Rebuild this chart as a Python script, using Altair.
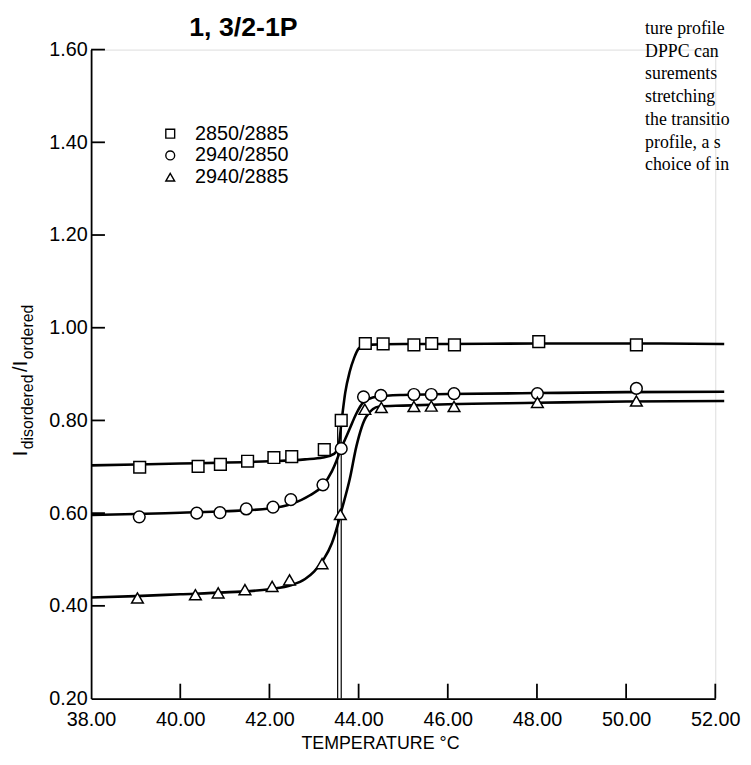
import altair as alt
import pandas as pd

# ---------------- data ----------------
series_names = ["2850/2885", "2940/2850", "2940/2885"]
series_shapes = ["square", "circle", "triangle-up"]

sq_x = [39.09, 40.40, 40.90, 41.51, 42.10, 42.50, 43.23, 43.61, 44.15, 44.55, 45.24, 45.64, 46.15, 48.04, 50.23]
sq_y = [0.699, 0.701, 0.705, 0.712, 0.720, 0.722, 0.737, 0.800, 0.966, 0.965, 0.963, 0.966, 0.963, 0.970, 0.963]

ci_x = [39.08, 40.37, 40.89, 41.48, 42.08, 42.48, 43.20, 43.61, 44.11, 44.50, 45.24, 45.63, 46.14, 48.01, 50.23]
ci_y = [0.592, 0.600, 0.601, 0.609, 0.613, 0.629, 0.661, 0.739, 0.851, 0.854, 0.856, 0.856, 0.858, 0.858, 0.869]

tr_x = [39.04, 40.34, 40.85, 41.45, 42.06, 42.45, 43.18, 43.59, 44.14, 44.51, 45.24, 45.63, 46.14, 48.01, 50.23]
tr_y = [0.417, 0.424, 0.428, 0.435, 0.442, 0.456, 0.491, 0.597, 0.824, 0.828, 0.830, 0.831, 0.830, 0.839, 0.842]

# fitted curves
sq_cx = [38.0, 39.0, 40.0, 41.0, 42.0, 42.8, 43.2, 43.45, 43.55, 43.62, 43.70, 43.80, 43.90, 44.00, 44.15, 45.0, 46.0, 48.0, 50.0, 52.2]
sq_cy = [0.703, 0.705, 0.707, 0.709, 0.712, 0.716, 0.720, 0.728, 0.745, 0.800, 0.860, 0.905, 0.935, 0.955, 0.963, 0.965, 0.965, 0.966, 0.966, 0.965]

ci_cx = [38.0, 39.0, 40.0, 41.0, 42.0, 42.5, 42.9, 43.2, 43.4, 43.5, 43.6, 43.7, 43.8, 43.95, 44.1, 44.4, 45.0, 46.0, 48.0, 50.0, 52.2]
ci_cy = [0.596, 0.598, 0.601, 0.604, 0.610, 0.620, 0.638, 0.660, 0.690, 0.712, 0.738, 0.760, 0.782, 0.815, 0.838, 0.851, 0.855, 0.857, 0.859, 0.861, 0.862]

tr_cx = [38.0, 39.0, 40.0, 41.0, 42.0, 42.5, 42.8, 43.0, 43.2, 43.4, 43.54, 43.6, 43.8, 43.95, 44.17, 44.46, 45.0, 46.0, 48.0, 50.0, 52.2]
tr_cy = [0.418, 0.421, 0.425, 0.429, 0.436, 0.445, 0.458, 0.474, 0.498, 0.535, 0.578, 0.600, 0.673, 0.744, 0.808, 0.830, 0.832, 0.835, 0.838, 0.841, 0.842]

# transition temperature markers (double vertical line)
tm_x = [43.53, 43.61]
tm_y0 = [0.20, 0.20]
tm_y1 = [0.79, 0.79]

x_ticks = [38, 40, 42, 44, 46, 48, 50, 52]
y_ticks = [0.2, 0.4, 0.6, 0.8, 1.0, 1.2, 1.4, 1.6]
x_inner_ticks = [40, 42, 44, 46, 48, 50, 52]
y_inner_ticks = [0.4, 0.6, 0.8, 1.0, 1.2, 1.4, 1.6]

title_text = "1, 3/2-1P"
x_title = "TEMPERATURE °C"
page_lines = ["ture profile", "DPPC can", "surements", "stretching",
              "the transitio", "profile, a s", "choice of in"]

# ---------------- tables ----------------
points = pd.concat([
    pd.DataFrame({"temp": sq_x, "ratio": sq_y, "series": series_names[0]}),
    pd.DataFrame({"temp": ci_x, "ratio": ci_y, "series": series_names[1]}),
    pd.DataFrame({"temp": tr_x, "ratio": tr_y, "series": series_names[2]}),
], ignore_index=True)

curves = pd.concat([
    pd.DataFrame({"temp": sq_cx, "ratio": sq_cy, "series": series_names[0]}),
    pd.DataFrame({"temp": ci_cx, "ratio": ci_cy, "series": series_names[1]}),
    pd.DataFrame({"temp": tr_cx, "ratio": tr_cy, "series": series_names[2]}),
], ignore_index=True)

tm = pd.DataFrame({"temp": tm_x, "ratio": tm_y0, "ratio_top": tm_y1})

W, H = 631, 656
FONT = "Liberation Sans"

x_scale = alt.Scale(domain=[38, 52], nice=False, zero=False)
y_scale = alt.Scale(domain=[0.2, 1.6], nice=False, zero=False)

x_axis = alt.Axis(values=x_ticks, format=".2f", ticks=False, tickSize=0, grid=False,
                  labelFont=FONT, labelFontSize=20, labelColor="black", labelPadding=11,
                  labelFlush=False, labelOverlap=False,
                  domainColor="black", domainWidth=1.8,
                  title=x_title, titleFont=FONT, titleFontSize=18, titleFontWeight="normal",
                  titleColor="black", titleX=292, titleY=45, titleBaseline="middle",
                  titleAlign="center", titleAnchor="start")
y_axis = alt.Axis(values=y_ticks, format=".2f", ticks=False, tickSize=0, grid=False,
                  labelFont=FONT, labelFontSize=20, labelColor="black", labelPadding=4,
                  labelFlush=False, labelOverlap=False,
                  domainColor="black", domainWidth=1.8, title=None)

X = alt.X("temp:Q", scale=x_scale, axis=x_axis)
Y = alt.Y("ratio:Q", scale=y_scale, axis=y_axis)
shape_scale = alt.Scale(domain=series_names, range=series_shapes)

lines = alt.Chart(curves).mark_line(color="black", strokeWidth=2.6, interpolate="monotone").encode(
    x=X, y=Y, detail="series:N")

tm_rules = alt.Chart(tm).mark_rule(color="black", strokeWidth=1.2).encode(
    x=X, y=Y, y2="ratio_top:Q")

pts = alt.Chart(points).mark_point(filled=True, fill="white", stroke="black", strokeWidth=1.5,
                                   size=140, opacity=1).encode(
    x=X, y=Y,
    shape=alt.Shape("series:N", scale=shape_scale, legend=None))

xt = alt.Chart(pd.DataFrame({"temp": x_inner_ticks})).mark_rule(color="black", strokeWidth=1.8).encode(
    x=X, y=alt.value(H), y2=alt.value(H - 15))
yt = alt.Chart(pd.DataFrame({"ratio": y_inner_ticks})).mark_rule(color="black", strokeWidth=1.8).encode(
    y=Y, x=alt.value(0), x2=alt.value(14))


def label(txt, x, y, size, **kw):
    return alt.Chart(pd.DataFrame({"t": [txt]})).mark_text(
        font=kw.pop("font", FONT), fontSize=size, color="black", **kw
    ).encode(text="t:N", x=alt.value(x), y=alt.value(y))


# manual legend (inside the plot, upper left)
legend_layers = []
for i, (name, shp) in enumerate(zip(series_names, series_shapes)):
    legend_layers.append(
        alt.Chart(pd.DataFrame({"series": [name]})).mark_point(
            shape=shp, filled=True, fill="white", stroke="black", strokeWidth=1.4, size=80, opacity=1
        ).encode(x=alt.value(80), y=alt.value(85 + 22 * i)))
    legend_layers.append(label(name, 105, 85 + 22 * i, 20, align="left", baseline="middle"))

title = label(title_text, 154, -22, 27, fontWeight="bold", align="center", baseline="middle")

# y-axis title: I_disordered / I_ordered (rotated)
ytitle = [
    label("I", -65, 411, 20, angle=270, align="left", baseline="alphabetic"),
    label("disordered", -59, 404, 16, angle=270, align="left", baseline="alphabetic"),
    label("/", -65, 326, 20, angle=270, align="left", baseline="alphabetic"),
    label("I", -65, 320, 20, angle=270, align="left", baseline="alphabetic"),
    label("ordered", -59, 313, 16, angle=270, align="left", baseline="alphabetic"),
]

book = [label(t, 560, -16 + 23 * i, 18, font="Liberation Serif", align="left", baseline="alphabetic")
        for i, t in enumerate(page_lines)]

chart = alt.layer(lines, tm_rules, xt, yt, pts, title, *legend_layers, *ytitle, *book).properties(
    width=W, height=H,
    autosize=alt.AutoSizeParams(type="none"),
    padding={"left": 84, "top": 38, "right": 28, "bottom": 53},
).configure_view(stroke=None).configure(background="white")

chart.save("out.html", embed_options={"renderer": "svg", "actions": False})
